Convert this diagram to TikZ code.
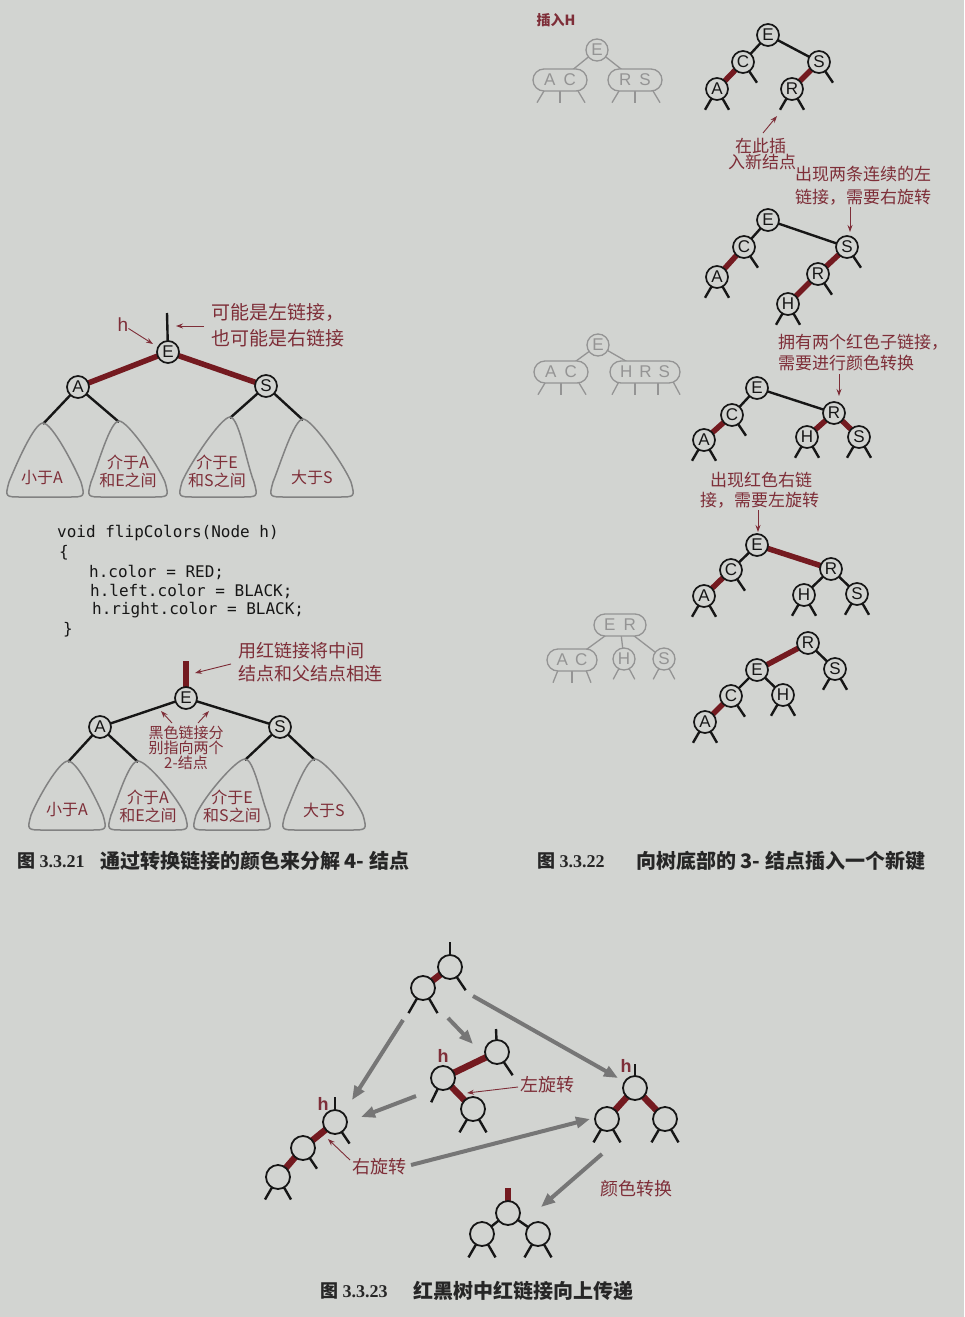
\documentclass[tikz,border=0pt]{standalone}
\usepackage{fontspec}
\setmainfont{Liberation Sans}
\newfontfamily\cjk{Noto Sans CJK SC}
\newfontfamily\mono{DejaVu Sans Mono}
\newfontfamily\capserif{Liberation Serif}
\usetikzlibrary{arrows.meta}
\pgfdeclarelayer{bgfill}
\pgfdeclarelayer{links}
\pgfsetlayers{bgfill,links,main}
\definecolor{bg}{RGB}{210,212,209}
\definecolor{linkred}{RGB}{116,26,32}
\definecolor{lblred}{RGB}{126,46,56}
\definecolor{ghost}{RGB}{148,148,148}
\definecolor{trigray}{RGB}{130,130,130}
\definecolor{arrgray}{RGB}{118,118,118}
\definecolor{ink}{RGB}{22,22,22}
\definecolor{capink}{RGB}{38,38,38}
\newcommand\fsz[1]{\fontsize{#1}{#1}\selectfont}
\newcommand\mylegs[2]{\draw[blk] (#1.center) -- ++(-120:#2); \draw[blk] (#1.center) -- ++(-60:#2);}
\newcommand\myrstub[2]{\draw[blk] (#1.center) -- ++(-56:#2);}
\newcommand\gleg[3]{\draw[gl] ([xshift=#2pt,yshift=4pt]#1.south) -- ++(#3pt,-15pt);}
\newcommand\gclegs[1]{\draw[gl] (#1.center) -- ++(-118:23pt); \draw[gl] (#1.center) -- ++(-62:23pt);}
% rounded "bell" subtree: apex x, apex (visible top) y, base centre x, base y, half width
\newcommand\mytri[5]{\draw[tri] (#3,#4) -- (#3+#5-14,#4) .. controls (#3+#5+3,#4) .. (#3+#5-1,#4-15) .. controls (#3+#5-8,#4-32) and (#1+9,#2) .. (#1,#2) .. controls (#1-9,#2) and (#3-#5+8,#4-32) .. (#3-#5+1,#4-15) .. controls (#3-#5-3,#4) .. (#3-#5+14,#4) -- cycle;}
\tikzset{
 nd/.style={circle,draw=ink,line width=1.7pt,fill=bg,minimum size=22pt,inner sep=0pt,font=\fsz{17},text=ink},
 ndb/.style={circle,draw=ink,line width=1.8pt,fill=bg,minimum size=24pt,inner sep=0pt},
 blk/.style={draw=ink,line width=2.4pt},
 redl/.style={draw=linkred,line width=5.5pt},
 redlb/.style={draw=linkred,line width=6.5pt},
 lbl/.style={text=lblred,font=\cjk\fsz{17},inner sep=0pt},
 htxt/.style={text=lblred,font=\bfseries\fsz{18},inner sep=0pt},
 lblarr/.style={draw=lblred,line width=0.9pt,-{Stealth[length=7pt,width=5pt]}},
 garr/.style={draw=arrgray,line width=4pt,-{Triangle[length=14pt,width=11pt]}},
 tri/.style={draw=trigray,line width=1.5pt,line join=round},
 gnd/.style={circle,draw=ghost,line width=1.3pt,fill=bg,minimum size=22pt,inner sep=0pt,text=ghost,font=\fsz{17}},
 gov/.style={rectangle,rounded corners=11pt,draw=ghost,line width=1.3pt,fill=bg,minimum height=22pt,inner sep=0pt,text=ghost,font=\fsz{17}},
 gl/.style={draw=ghost,line width=1.3pt},
 code/.style={font=\mono\fsz{16},anchor=west,inner sep=0pt,text=ink},
 tritxt/.style={text=lblred,font=\cjk\fsz{16},inner sep=0pt,align=center},
 capn/.style={text=capink,font=\capserif\bfseries\fsz{18},anchor=west,inner sep=0pt},
 capt/.style={text=capink,font=\cjk\bfseries\fsz{20},anchor=west,inner sep=0pt}
}
\begin{document}
\begin{tikzpicture}[x=1pt,y=-1pt]
\begin{pgfonlayer}{bgfill}
\fill[bg] (0,0) rectangle (964,1317);
\end{pgfonlayer}
\useasboundingbox (0,0) rectangle (964,1317);

% ================= Figure 3.3.21 =================
\node[nd] (E1) at (168,352) {E};
\node[nd] (A1) at (78,387) {A};
\node[nd] (S1) at (266,386) {S};
\coordinate (E1up) at (167,313);
\coordinate (t1a) at (43,424);
\coordinate (t1b) at (119,422);
\coordinate (t1c) at (230,418);
\coordinate (t1d) at (303,420);
\node[htxt,font=\fsz{19}] (h1) at (123,325) {h};
\coordinate (h1tip) at (153,344);
\draw[lblarr] (h1) -- (h1tip);
\coordinate (n1s) at (204,326);
\coordinate (n1t) at (176,326);
\draw[lblarr] (n1s) -- (n1t);
\node[lbl,anchor=west,font=\cjk\fsz{19}] (n1a) at (211,313) {可能是左链接，};
\node[lbl,anchor=west,font=\cjk\fsz{19}] (n1b) at (211,338) {也可能是右链接};
\mytri{43}{423}{45}{497}{37}
\mytri{119}{421}{128}{497}{38}
\mytri{230}{417}{218}{497}{37}
\mytri{303}{419}{312}{497}{40}
\node[tritxt] (x1) at (42,478) {小于A};
\node[tritxt] (x2) at (128,471) {介于A\\[2pt]和E之间};
\node[tritxt] (x3) at (217,471) {介于E\\[2pt]和S之间};
\node[tritxt] (x4) at (312,477) {大于S};

% code
\node[code] (c1) at (57,533) {void flipColors(Node h)};
\node[code] (c2) at (59,553) {\{};
\node[code] (c3) at (89,572) {h.color = RED;};
\node[code] (c4) at (90,591) {h.left.color = BLACK;};
\node[code] (c5) at (92,610) {h.right.color = BLACK;};
\node[code] (c6) at (63,630) {\}};

\node[nd] (E2) at (186,698) {E};
\node[nd] (A2) at (100,727) {A};
\node[nd] (S2) at (280,727) {S};
\coordinate (E2up) at (186,661);
\coordinate (t2a) at (68,762);
\coordinate (t2b) at (138,762);
\coordinate (t2c) at (245,760);
\coordinate (t2d) at (315,760);
\node[lbl,anchor=west,font=\cjk\fsz{18}] (u1a) at (238,651) {用红链接将中间};
\node[lbl,anchor=west,font=\cjk\fsz{18}] (u1b) at (238,674) {结点和父结点相连};
\coordinate (u1s) at (231,664);
\coordinate (u1t) at (195,673);
\draw[lblarr] (u1s) -- (u1t);
\node[lbl,font=\cjk\fontsize{15}{15}\selectfont,align=center] (blab) at (186,748) {黑色链接分\\别指向两个\\2-结点};
\coordinate (b1s) at (172,723); \coordinate (b1t) at (161,711);
\coordinate (b2s) at (198,723); \coordinate (b2t) at (209,711);
\draw[lblarr] (b1s) -- (b1t);
\draw[lblarr] (b2s) -- (b2t);
\mytri{68}{761}{67}{830}{37}
\mytri{138}{761}{148}{830}{38}
\mytri{245}{759}{232}{830}{37}
\mytri{315}{759}{324}{830}{40}
\node[tritxt] (y1) at (67,810) {小于A};
\node[tritxt] (y2) at (148,806) {介于A\\[2pt]和E之间};
\node[tritxt] (y3) at (232,806) {介于E\\[2pt]和S之间};
\node[tritxt] (y4) at (324,810) {大于S};

\node[capn] (cap1n) at (17,861) {{\cjk 图} 3.3.21};
\node[capt] (cap1t) at (100,861) {通过转换链接的颜色来分解 4- 结点};

% ================= Figure 3.3.22 =================
\node[lbl,font=\cjk\bfseries\fsz{14}] (title) at (556,20) {插入H};

% ghost 1
\node[gnd] (g1E) at (597,50) {E};
\node[gov,minimum width=54pt] (g1L) at (560,80) {A\hspace{8pt}C};
\node[gov,minimum width=54pt] (g1R) at (635,80) {R\hspace{8pt}S};

% tree 1
\node[nd] (pE) at (768,35) {E};
\node[nd] (pC) at (743,62) {C};
\node[nd] (pS) at (819,62) {S};
\node[nd] (pA) at (717,89) {A};
\node[nd] (pR) at (792,89) {R};
\coordinate (ins1) at (763,133); \coordinate (ins2) at (777,116);
\draw[lblarr] (ins1) -- (ins2);
\node[lbl,anchor=west] (l1a) at (735,146) {在此插};
\node[lbl,anchor=west] (l1b) at (728,162) {入新结点};

\node[lbl,anchor=west] (l2a) at (795,174) {出现两条连续的左};
\node[lbl,anchor=west] (l2b) at (795,197) {链接，需要右旋转};
\coordinate (a2s) at (850,207); \coordinate (a2t) at (850,232);
\draw[lblarr] (a2s) -- (a2t);

% tree 2
\node[nd] (qE) at (768,220) {E};
\node[nd] (qC) at (744,247) {C};
\node[nd] (qS) at (847,247) {S};
\node[nd] (qA) at (717,277) {A};
\node[nd] (qR) at (818,274) {R};
\node[nd] (qH) at (788,304) {H};

\node[lbl,anchor=west] (l3a) at (778,342) {拥有两个红色子链接，};
\node[lbl,anchor=west] (l3b) at (778,363) {需要进行颜色转换};
\coordinate (a3s) at (839,374); \coordinate (a3t) at (839,396);
\draw[lblarr] (a3s) -- (a3t);

% ghost 2
\node[gnd] (g2E) at (598,345) {E};
\node[gov,minimum width=54pt] (g2L) at (561,372) {A\hspace{8pt}C};
\node[gov,minimum width=70pt] (g2R) at (645,372) {H\hspace{7pt}R\hspace{7pt}S};

% tree 3
\node[nd] (rE) at (757,388) {E};
\node[nd] (rC) at (732,415) {C};
\node[nd] (rR) at (834,413) {R};
\node[nd] (rA) at (704,440) {A};
\node[nd] (rH) at (807,437) {H};
\node[nd] (rS) at (859,437) {S};

\node[lbl,anchor=west] (l4a) at (710,480) {出现红色右链};
\node[lbl,anchor=west] (l4b) at (700,500) {接，需要左旋转};
\coordinate (a4s) at (758,510); \coordinate (a4t) at (758,532);
\draw[lblarr] (a4s) -- (a4t);

% tree 4
\node[nd] (sE) at (757,545) {E};
\node[nd] (sR) at (831,569) {R};
\node[nd] (sC) at (731,570) {C};
\node[nd] (sA) at (704,596) {A};
\node[nd] (sH) at (804,595) {H};
\node[nd] (sS) at (857,594) {S};

% ghost 3
\node[gov,minimum width=52pt] (g3T) at (620,625) {E\hspace{8pt}R};
\node[gov,minimum width=50pt] (g3L) at (572,660) {A\hspace{7pt}C};
\node[gnd] (g3H) at (624,659) {H};
\node[gnd] (g3S) at (664,659) {S};

% tree 5
\node[nd] (tR) at (808,643) {R};
\node[nd] (tE) at (757,670) {E};
\node[nd] (tS) at (835,669) {S};
\node[nd] (tC) at (731,696) {C};
\node[nd] (tH) at (783,695) {H};
\node[nd] (tA) at (705,722) {A};

\node[capn] (cap2n) at (537,861) {{\cjk 图} 3.3.22};
\node[capt] (cap2t) at (636,861) {向树底部的 3- 结点插入一个新键};

% ================= Figure 3.3.23 =================
\node[ndb] (T1) at (450,967) {};
\node[ndb] (T2) at (423,988) {};
\coordinate (T1up) at (450,942);

\node[ndb] (M1) at (497,1052) {};
\node[ndb] (M2) at (443,1078) {};
\node[ndb] (M3) at (473,1109) {};
\coordinate (M1up) at (496,1029);
\node[htxt] (hM) at (443,1056) {h};
\node[lbl,font=\cjk\fsz{18}] (rotL) at (547,1085) {左旋转};
\coordinate (rl1) at (518,1087); \coordinate (rl2) at (467,1093);
\draw[lblarr] (rl1) -- (rl2);

\node[ndb] (R1) at (635,1088) {};
\node[ndb] (R2) at (607,1119) {};
\node[ndb] (R3) at (665,1119) {};
\coordinate (R1up) at (635,1064);
\node[htxt] (hR) at (626,1066) {h};

\node[ndb] (L1) at (335,1122) {};
\node[ndb] (L2) at (303,1148) {};
\node[ndb] (L3) at (278,1177) {};
\coordinate (L1up) at (335,1097);
\node[htxt] (hL) at (323,1104) {h};
\node[lbl,font=\cjk\fsz{18}] (rotR) at (379,1167) {右旋转};
\coordinate (rr1) at (350,1160); \coordinate (rr2) at (328,1139);
\draw[lblarr] (rr1) -- (rr2);

\node[ndb] (B1) at (508,1213) {};
\node[ndb] (B2) at (482,1234) {};
\node[ndb] (B3) at (538,1234) {};
\coordinate (B1up) at (508,1188);
\node[lbl,font=\cjk\fsz{18}] (flip) at (636,1189) {颜色转换};

% gray arrows
\coordinate (ga1s) at (403,1020); \coordinate (ga1t) at (352,1100);
\coordinate (ga2s) at (448,1018); \coordinate (ga2t) at (473,1044);
\coordinate (ga3s) at (473,996);  \coordinate (ga3t) at (618,1078);
\coordinate (ga4s) at (416,1096); \coordinate (ga4t) at (361,1117);
\coordinate (ga5s) at (411,1165); \coordinate (ga5t) at (590,1119);
\coordinate (ga6s) at (602,1154); \coordinate (ga6t) at (541,1207);
\draw[garr] (ga1s) -- (ga1t);
\draw[garr] (ga2s) -- (ga2t);
\draw[garr] (ga3s) -- (ga3t);
\draw[garr] (ga4s) -- (ga4t);
\draw[garr] (ga5s) -- (ga5t);
\draw[garr] (ga6s) -- (ga6t);

\node[capn] (cap3n) at (320,1291) {{\cjk 图} 3.3.23};
\node[capt] (cap3t) at (413,1291) {红黑树中红链接向上传递};

% ================= links (under nodes) =================
\begin{pgfonlayer}{links}
% fig 21
\draw[redl] (E1.center) -- (A1.center);
\draw[redl] (E1.center) -- (S1.center);
\draw[blk] (E1.center) -- (E1up);
\draw[blk] (A1.center) -- (t1a);
\draw[blk] (A1.center) -- (t1b);
\draw[blk] (S1.center) -- (t1c);
\draw[blk] (S1.center) -- (t1d);
\draw[blk] (E2.center) -- (A2.center);
\draw[blk] (E2.center) -- (S2.center);
\draw[redl] (E2.center) -- (E2up);
\draw[blk] (A2.center) -- (t2a);
\draw[blk] (A2.center) -- (t2b);
\draw[blk] (S2.center) -- (t2c);
\draw[blk] (S2.center) -- (t2d);
% ghost 1
\draw[gl] (g1E.center) -- (g1L.center);
\draw[gl] (g1E.center) -- (g1R.center);
\gleg{g1L}{-14}{-9} \gleg{g1L}{0}{0} \gleg{g1L}{16}{9}
\gleg{g1R}{-14}{-9} \gleg{g1R}{0}{0} \gleg{g1R}{16}{9}
% tree 1
\draw[blk] (pE.center) -- (pC.center);
\draw[blk] (pE.center) -- (pS.center);
\draw[redl] (pC.center) -- (pA.center);
\draw[redl] (pS.center) -- (pR.center);
\myrstub{pC}{25pt} \myrstub{pS}{25pt}
\mylegs{pA}{24pt} \mylegs{pR}{24pt}
% tree 2
\draw[blk] (qE.center) -- (qC.center);
\draw[blk] (qE.center) -- (qS.center);
\draw[redl] (qC.center) -- (qA.center);
\draw[redl] (qS.center) -- (qR.center);
\draw[redl] (qR.center) -- (qH.center);
\myrstub{qC}{25pt} \myrstub{qS}{25pt} \myrstub{qR}{25pt}
\mylegs{qA}{24pt} \mylegs{qH}{24pt}
% ghost 2
\draw[gl] (g2E.center) -- (g2L.center);
\draw[gl] (g2E.center) -- (g2R.center);
\gleg{g2L}{-14}{-9} \gleg{g2L}{0}{0} \gleg{g2L}{16}{9}
\gleg{g2R}{-25}{-8} \gleg{g2R}{-10}{0} \gleg{g2R}{13}{0} \gleg{g2R}{27}{8}
% tree 3
\draw[blk] (rE.center) -- (rC.center);
\draw[blk] (rE.center) -- (rR.center);
\draw[redl] (rC.center) -- (rA.center);
\draw[redl] (rR.center) -- (rH.center);
\draw[redl] (rR.center) -- (rS.center);
\myrstub{rC}{25pt}
\mylegs{rA}{24pt} \mylegs{rH}{24pt} \mylegs{rS}{24pt}
% tree 4
\draw[redl] (sE.center) -- (sR.center);
\draw[blk] (sE.center) -- (sC.center);
\draw[redl] (sC.center) -- (sA.center);
\draw[blk] (sR.center) -- (sH.center);
\draw[blk] (sR.center) -- (sS.center);
\myrstub{sC}{25pt}
\mylegs{sA}{24pt} \mylegs{sH}{24pt} \mylegs{sS}{24pt}
% ghost 3
\draw[gl] (g3T.center) -- (g3L.center);
\draw[gl] (g3T.center) -- (g3H.center);
\draw[gl] (g3T.center) -- (g3S.center);
\gleg{g3L}{-13}{-6} \gleg{g3L}{0}{0} \gleg{g3L}{13}{6}
\gclegs{g3H} \gclegs{g3S}
% tree 5
\draw[redl] (tR.center) -- (tE.center);
\draw[blk] (tR.center) -- (tS.center);
\draw[blk] (tE.center) -- (tC.center);
\draw[blk] (tE.center) -- (tH.center);
\draw[redl] (tC.center) -- (tA.center);
\myrstub{tC}{25pt}
\mylegs{tS}{24pt} \mylegs{tH}{24pt} \mylegs{tA}{24pt}
% fig 23
\draw[redlb] (T1.center) -- (T2.center);
\draw[blk] (T1.center) -- (T1up);
\myrstub{T1}{28pt}
\mylegs{T2}{29pt}
\draw[redlb] (M1.center) -- (M2.center);
\draw[redlb] (M2.center) -- (M3.center);
\draw[blk] (M1.center) -- (M1up);
\myrstub{M1}{28pt}
\draw[blk] (M2.center) -- ++(-116:27pt);
\mylegs{M3}{27pt}
\draw[redlb] (R1.center) -- (R2.center);
\draw[redlb] (R1.center) -- (R3.center);
\draw[blk] (R1.center) -- (R1up);
\mylegs{R2}{27pt} \mylegs{R3}{27pt}
\draw[redlb] (L1.center) -- (L2.center);
\draw[redlb] (L2.center) -- (L3.center);
\draw[blk] (L1.center) -- (L1up);
\myrstub{L1}{26pt} \myrstub{L2}{25pt}
\mylegs{L3}{26pt}
\draw[blk] (B1.center) -- (B2.center);
\draw[blk] (B1.center) -- (B3.center);
\draw[redlb] (B1.center) -- (B1up);
\mylegs{B2}{27pt} \mylegs{B3}{27pt}
\end{pgfonlayer}
\end{tikzpicture}
\end{document}
